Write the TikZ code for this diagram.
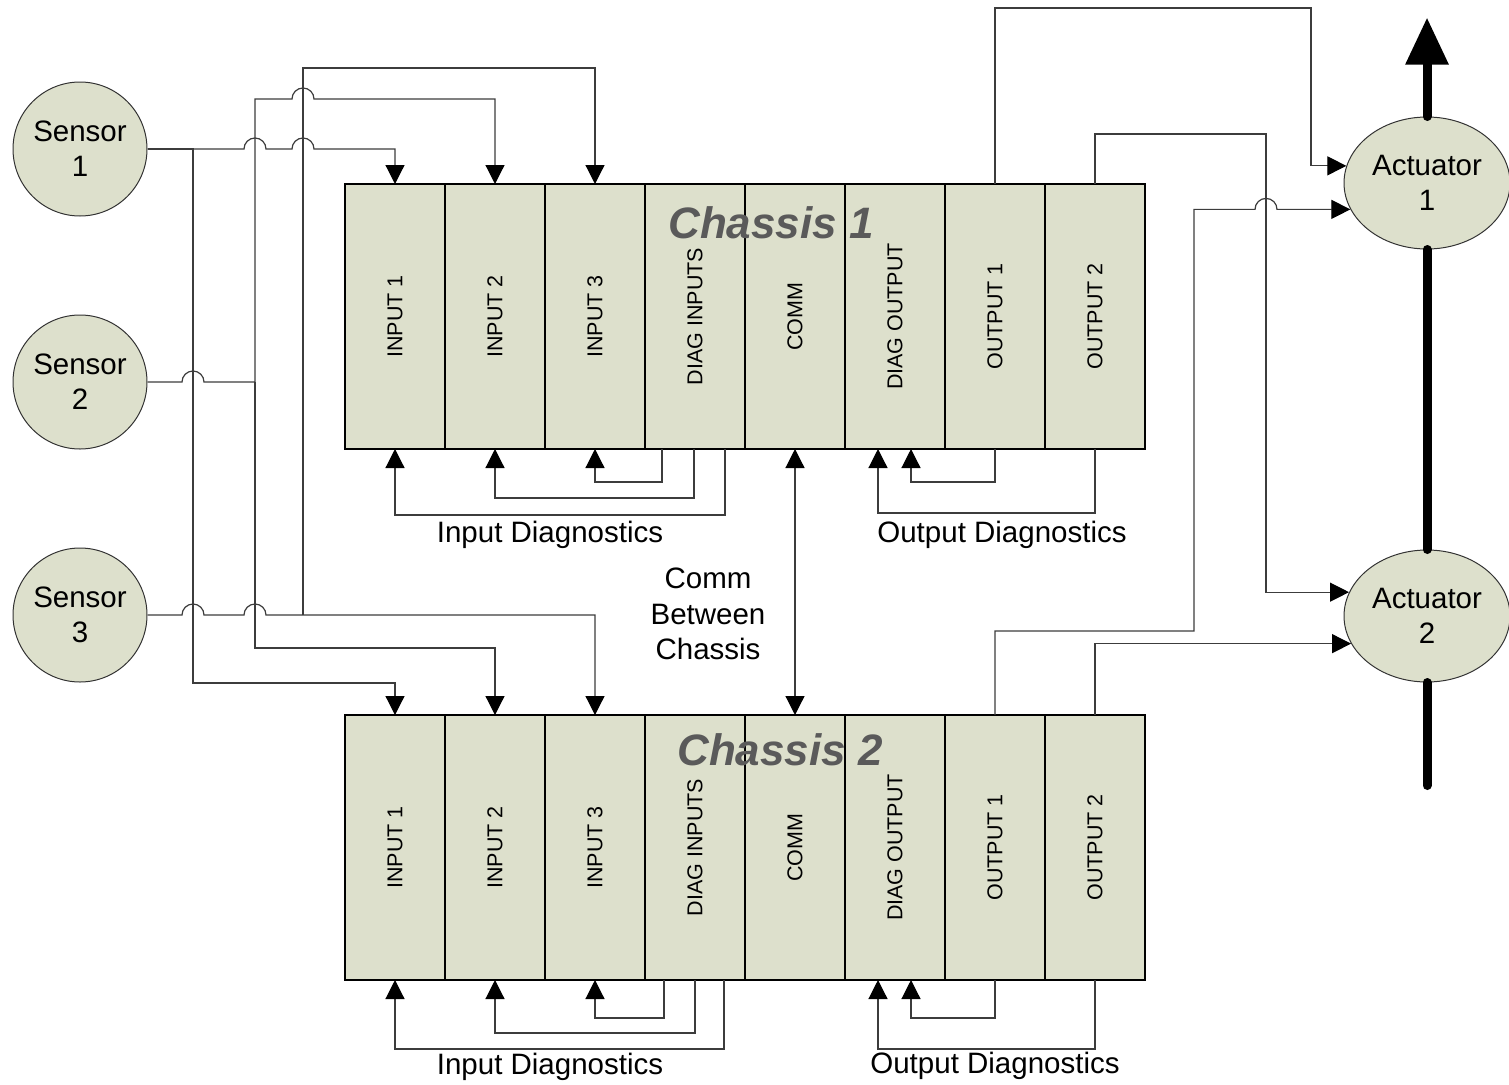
\documentclass[tikz,border=0pt]{standalone}
\usepackage{fontspec}
\setmainfont{Liberation Sans}
\usetikzlibrary{arrows.meta,positioning,shapes.geometric}
\definecolor{modfill}{HTML}{DDE0CC}
\definecolor{wiregray}{HTML}{3C3C3C}
\definecolor{titlegray}{HTML}{5A5A5A}

\begin{document}
\begin{tikzpicture}[x=1pt, y=-1pt,
  module/.style={rectangle, draw=black, fill=modfill, line width=1.2pt,
    minimum width=100pt, minimum height=265pt, inner sep=0pt, outer sep=0pt,
    font=\fontsize{21.5}{24}\selectfont},
  sensor/.style={circle, draw=black!80, fill=modfill, line width=1pt,
    minimum size=134pt, inner sep=0pt, align=center, font=\fontsize{29.5}{35}\selectfont},
  actuator/.style={ellipse, draw=black!80, fill=modfill, line width=1pt,
    minimum width=166pt, minimum height=132pt, inner sep=0pt, align=center,
    font=\fontsize{29.5}{35}\selectfont},
  lbl/.style={font=\fontsize{29.5}{35.5}\selectfont, align=center},
  title/.style={font=\fontsize{44}{50}\selectfont\bfseries\itshape, text=titlegray},
  wire/.style={draw=wiregray, line width=1.2pt},
  arr/.style={-{Triangle[length=19pt,width=19pt,color=black]}},
  dblarr/.style={{Triangle[length=19pt,width=19pt,color=black]}-{Triangle[length=19pt,width=19pt,color=black]}},
  jump/.style={insert path={arc[start angle=180, end angle=0, radius=11pt]}},
  bus/.style={line width=9pt, line cap=round}
]
\useasboundingbox (0,0) rectangle (1509,1084);

% chassis 1
\node[module] (c1in1) at (395,316.5) {\rotatebox{90}{INPUT 1}};
\node[module, right=0pt of c1in1] (c1in2) {\rotatebox{90}{INPUT 2}};
\node[module, right=0pt of c1in2] (c1in3) {\rotatebox{90}{INPUT 3}};
\node[module, right=0pt of c1in3] (c1dinp) {\rotatebox{90}{DIAG INPUTS}};
\node[module, right=0pt of c1dinp] (c1comm) {\rotatebox{90}{COMM}};
\node[module, right=0pt of c1comm] (c1dout) {\rotatebox{90}{DIAG OUTPUT}};
\node[module, right=0pt of c1dout] (c1out1) {\rotatebox{90}{OUTPUT 1}};
\node[module, right=0pt of c1out1] (c1out2) {\rotatebox{90}{OUTPUT 2}};
\node[title] (t1) at (771,223) {Chassis 1};

% chassis 2
\node[module] (c2in1) at (395,847.5) {\rotatebox{90}{INPUT 1}};
\node[module, right=0pt of c2in1] (c2in2) {\rotatebox{90}{INPUT 2}};
\node[module, right=0pt of c2in2] (c2in3) {\rotatebox{90}{INPUT 3}};
\node[module, right=0pt of c2in3] (c2dinp) {\rotatebox{90}{DIAG INPUTS}};
\node[module, right=0pt of c2dinp] (c2comm) {\rotatebox{90}{COMM}};
\node[module, right=0pt of c2comm] (c2dout) {\rotatebox{90}{DIAG OUTPUT}};
\node[module, right=0pt of c2dout] (c2out1) {\rotatebox{90}{OUTPUT 1}};
\node[module, right=0pt of c2out1] (c2out2) {\rotatebox{90}{OUTPUT 2}};
\node[title] (t2) at (780,750) {Chassis 2};

\node[sensor] (s1) at (80,149) {Sensor\\1};
\node[sensor] (s2) at (80,382) {Sensor\\2};
\node[sensor] (s3) at (80,615) {Sensor\\3};
\node[actuator] (a1) at (1427,183) {Actuator\\1};
\node[actuator] (a2) at (1427,616) {Actuator\\2};

\node[lbl] (d1in) at (550,535) {Input Diagnostics};
\node[lbl] (d1out) at (1002,535) {Output Diagnostics};
\node[lbl] (d2in) at (550,1067) {Input Diagnostics};
\node[lbl] (d2out) at (995,1066) {Output Diagnostics};
\node[lbl] (cl) at (708,614) {Comm\\Between\\Chassis};

% vertical buses
\coordinate (b1) at (193,0);
\coordinate (b2) at (255,0);
\coordinate (b3) at (303,0);
\coordinate (v1) at (1194,0);
\coordinate (v2) at (1266,0);
\coordinate (v3) at (1311,0);

% sensor wiring
\draw[wire, arr] (s1.east) -- ([xshift=-11pt]b2 |- s1.east) [jump]
  -- ([xshift=-11pt]b3 |- s1.east) [jump] -- (c1in1.north |- s1.east) -- (c1in1.north);
\draw[wire, arr] (s1.east) -- (b1 |- s1.east) |- ([yshift=32pt]c2in1.north) -- (c2in1.north);
\draw[wire, arr] (s2.east) -- ([xshift=-11pt]b1 |- s2.east) [jump] -- (b2 |- s2.east)
  -- ([yshift=85pt]b2 |- c1in2.north) -- ([yshift=85pt,xshift=-11pt]b3 |- c1in2.north) [jump]
  -- ([yshift=85pt]c1in2.north) -- (c1in2.north);
\draw[wire, arr] (b2 |- s2.east) |- ([yshift=67pt]c2in2.north) -- (c2in2.north);
\draw[wire, arr] (s3.east) -- ([xshift=-11pt]b1 |- s3.east) [jump]
  -- ([xshift=-11pt]b2 |- s3.east) [jump] -- (c2in3.north |- s3.east) -- (c2in3.north);
\draw[wire, arr] (b3 |- s3.east) |- ([yshift=116pt]c1in3.north) -- (c1in3.north);

% diagnostics
\draw[wire, arr] ([xshift=-33pt]c1dinp.south) -- ++(0,33) -| (c1in3.south);
\draw[wire, arr] ([xshift=-1pt]c1dinp.south) -- ++(0,49) -| (c1in2.south);
\draw[wire, arr] ([xshift=30pt]c1dinp.south) -- ++(0,66) -| (c1in1.south);
\draw[wire, arr] (c1out1.south) -- ++(0,33) -| ([xshift=16pt]c1dout.south);
\draw[wire, arr] (c1out2.south) -- ++(0,64) -| ([xshift=-17pt]c1dout.south);
\draw[wire, arr] ([xshift=-31pt]c2dinp.south) -- ++(0,38) -| (c2in3.south);
\draw[wire, arr] ([xshift=0pt]c2dinp.south) -- ++(0,53) -| (c2in2.south);
\draw[wire, arr] ([xshift=29pt]c2dinp.south) -- ++(0,69) -| (c2in1.south);
\draw[wire, arr] (c2out1.south) -- ++(0,38) -| ([xshift=16pt]c2dout.south);
\draw[wire, arr] (c2out2.south) -- ++(0,69) -| ([xshift=-17pt]c2dout.south);

% comm
\draw[wire, dblarr] (c1comm.south) -- (c2comm.north);

% outputs
\draw[wire, arr] (c1out1.north) -- ++(0,-176) -| (v3 |- a1.168) -- (a1.168);
\draw[wire, arr] (c1out2.north) -- ++(0,-50) -| (v2 |- a2.163) -- (a2.163);
\draw[wire, arr] (c2out1.north) -- ++(0,-84) -| (v1 |- a1.199)
  -- ([xshift=-11pt]v2 |- a1.199) [jump] -- (a1.199);
\draw[wire, arr] (c2out2.north) |- (a2.200);

% actuator shaft
\draw[bus, -{Triangle[length=47pt,width=41pt]}] (a1.north) -- ++(0,-99);
\draw[bus] (a1.south) -- (a2.north);
\draw[bus] (a2.south) -- ++(0,103);
\end{tikzpicture}
\end{document}
